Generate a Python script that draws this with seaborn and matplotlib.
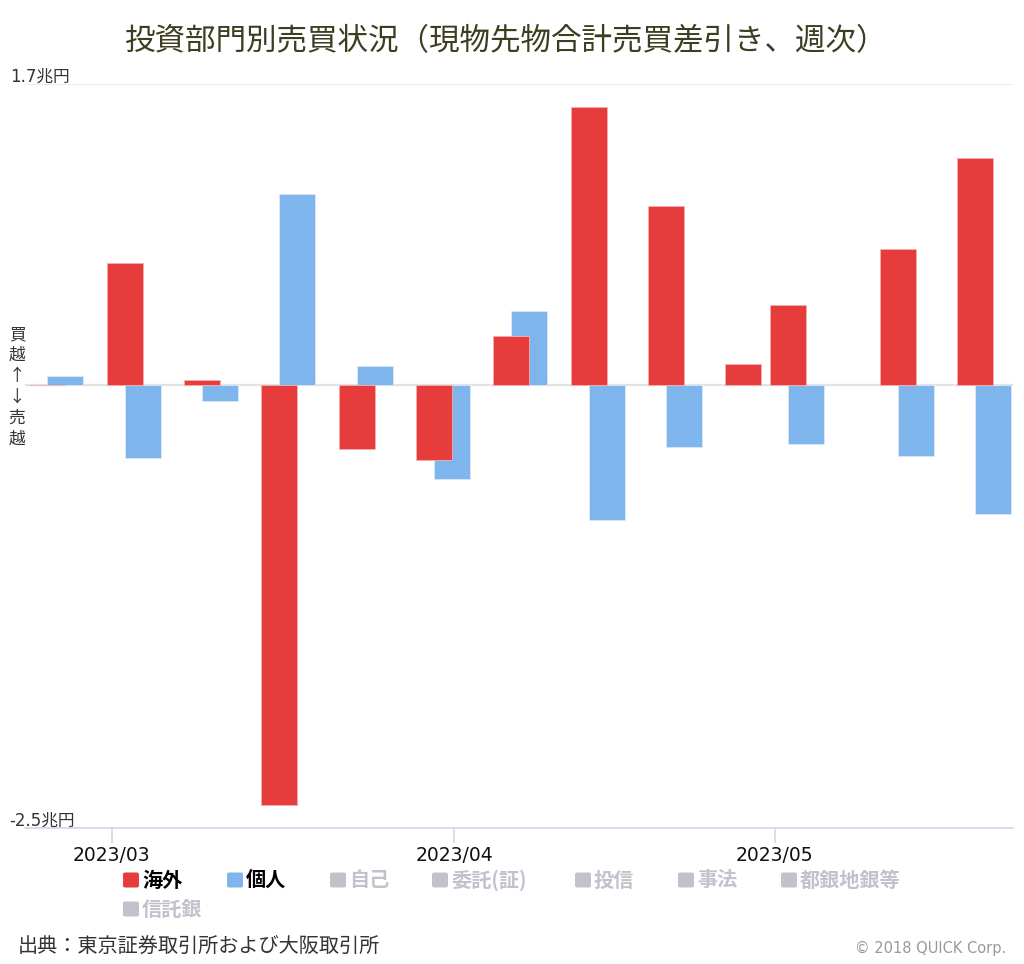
import numpy as np
import pandas as pd
import matplotlib
matplotlib.use("Agg")
import matplotlib.pyplot as plt
import matplotlib.dates as mdates
import matplotlib.transforms as mtransforms
from matplotlib.patches import FancyBboxPatch
import seaborn as sns

# weekly net buy/sell (trillion yen)
weeks = ["2023-02-24", "2023-03-03", "2023-03-10", "2023-03-17", "2023-03-24",
         "2023-03-31", "2023-04-07", "2023-04-14", "2023-04-21", "2023-04-28",
         "2023-05-02", "2023-05-12", "2023-05-19"]
foreign = [0.0, 0.69, 0.03, -2.37, -0.36, -0.42, 0.28, 1.57, 1.01, 0.12, 0.45, 0.77, 1.28]
individual = [0.05, -0.41, -0.09, 1.08, 0.11, -0.53, 0.42, -0.76, -0.35, 0.0, -0.33, -0.40, -0.73]

month_ticks = ["2023-03-01", "2023-04-01", "2023-04-30"]
month_labels = ["2023/03", "2023/04", "2023/05"]
y_ticks = [-2.5, 1.7]
y_labels = ["-2.5兆円", "1.7兆円"]

legend_names = ["海外", "個人", "自己", "委託(証)", "投信", "事法", "都銀地銀等", "信託銀"]

RED = "#e73c3c"
BLUE = "#7db5ec"
GRAY = "#c2c2cc"
CJK = ["Noto Sans CJK JP", "DejaVu Sans"]

sns.set_theme(style="white")
plt.rcParams["font.family"] = ["DejaVu Sans", "Noto Sans CJK JP"]

W, H = 1024, 964
fig = plt.figure(figsize=(W / 100, H / 100), dpi=100)
ax = fig.add_axes([25 / W, 1 - 828 / H, (1013 - 25) / W, (828 - 84) / H])


def px(x, y):
    return x / W, 1 - y / H


xnum = mdates.date2num(pd.to_datetime(weeks))
shift = 0.815  # half-overlap of the two bars, in days

blue_df = pd.DataFrame({"x": xnum + shift, "v": individual})
red_df = pd.DataFrame({"x": xnum - shift, "v": foreign})

ax.axhline(0, color="#e3e3e3", lw=1.6, zorder=0.5)
sns.barplot(data=blue_df, x="x", y="v", native_scale=True, orient="x", width=0.815,
            color=BLUE, saturation=1, errorbar=None, edgecolor="#d8e8f8",
            linewidth=0.6, zorder=2, ax=ax)
sns.barplot(data=red_df, x="x", y="v", native_scale=True, orient="x", width=0.815,
            color=RED, saturation=1, errorbar=None, edgecolor="#f4b0b0",
            linewidth=0.6, zorder=3, ax=ax)

ax.set_ylim(-2.5, 1.7)
ax.set_xlim(mdates.date2num(pd.Timestamp("2023-02-21 04:00")),
            mdates.date2num(pd.Timestamp("2023-05-21 14:00")))
ax.set_xlabel("")
ax.set_ylabel("")

ax.set_xticks(mdates.date2num(pd.to_datetime(month_ticks)))
ax.set_xticklabels(month_labels, fontsize=13.5, color="#111111")
ax.tick_params(axis="x", length=11, width=1.1, color="#ccd6eb", pad=2, bottom=True)

ax.set_yticks(y_ticks)
ax.set_yticklabels(y_labels, fontsize=12, color="#333333")
ax.tick_params(axis="y", length=0, pad=11)
lift = mtransforms.ScaledTranslation(0, 2 / 100, fig.dpi_scale_trans)
for lab in ax.get_yticklabels():
    lab.set_horizontalalignment("left")
    lab.set_verticalalignment("baseline")
    lab.set_transform(lab.get_transform() + lift)
ax.yaxis.grid(True, color="#e6e6e6", lw=1.2)
ax.xaxis.grid(False)

for s in ["left", "right", "top"]:
    ax.spines[s].set_visible(False)
ax.spines["bottom"].set_color("#ccd6eb")
ax.spines["bottom"].set_linewidth(1.1)

# title
fig.text(*px(505, 42), "投資部門別売買状況（現物先物合計売買差引き、週次）",
         ha="center", va="center", fontsize=22, color="#3d3d20", family=CJK)

# vertical direction label
fig.text(*px(17, 387), "買\n越\n↑\n↓\n売\n越", ha="center", va="center",
         fontsize=12, color="#333333", linespacing=1.31, family=CJK)

# legend
legend_pos = [(123, 880), (227, 880), (330, 880), (432, 880), (575, 880),
              (678, 880), (781, 880), (123, 909)]
legend_colors = [RED, BLUE] + [GRAY] * 6
for name, (lx, ly), c in zip(legend_names, legend_pos, legend_colors):
    x0, y0 = px(lx, ly + 7.5)
    fig.add_artist(FancyBboxPatch((x0, y0), 16 / W, 15 / H,
                                  boxstyle="round,pad=0,rounding_size=0.002",
                                  transform=fig.transFigure, facecolor=c,
                                  edgecolor="none"))
    tc = "#000000" if c != GRAY else GRAY
    fig.text(*px(lx + 19, ly), name, ha="left", va="center", fontsize=14.5,
             fontweight="bold", color=tc, family=CJK)

# footer
fig.text(*px(18, 946), "出典：東京証券取引所および大阪取引所", ha="left", va="center",
         fontsize=14.5, color="#333333", family=CJK)
fig.text(*px(1006, 948), "© 2018 QUICK Corp.", ha="right", va="center",
         fontsize=10.5, color="#999999")

fig.savefig("out.png", dpi=100)
